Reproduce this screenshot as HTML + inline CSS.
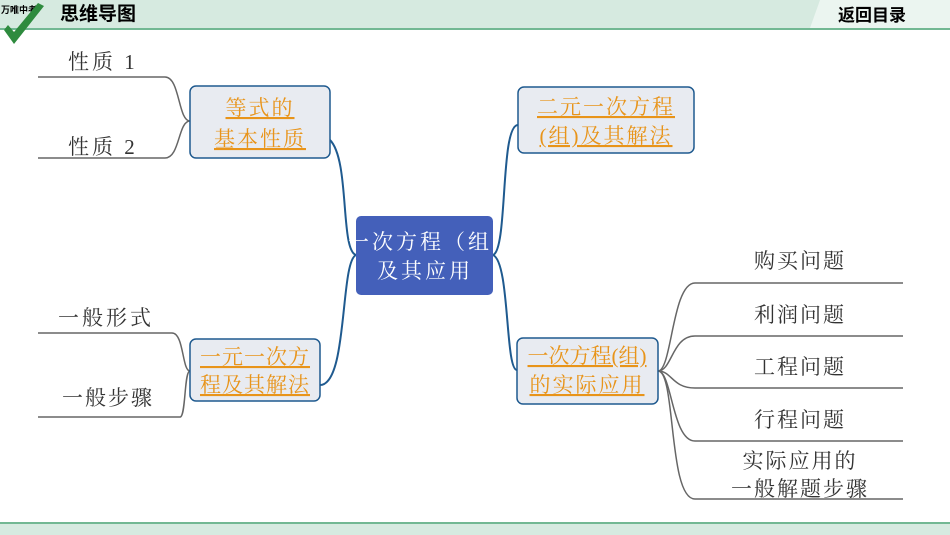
<!DOCTYPE html>
<html><head><meta charset="utf-8"><style>
html,body{margin:0;padding:0;width:950px;height:535px;overflow:hidden;background:#fff}
svg{display:block}
text{font-family:"Liberation Serif","Noto Serif CJK SC",serif}
</style></head><body>
<svg width="950" height="535" viewBox="0 0 950 535" xmlns="http://www.w3.org/2000/svg">
<rect x="0" y="0" width="950" height="28" fill="#d6eae0"/>
<rect x="0" y="28" width="950" height="2" fill="#72b893"/>
<polygon points="820,0 950,0 950,28 810,28" fill="#fff" opacity="0.5"/>
<text x="60" y="20" font-size="19" font-weight="bold" fill="#000" style="font-family:'Liberation Sans','Noto Sans CJK SC',sans-serif">思维导图</text>
<text x="838" y="21" font-size="17" font-weight="bold" fill="#000" style="font-family:'Liberation Sans','Noto Sans CJK SC',sans-serif">返回目录</text>
<text x="1" y="13" font-size="9" font-weight="bold" fill="#000" style="font-family:'Liberation Sans','Noto Sans CJK SC',sans-serif">万唯中考</text>
<path d="M4,30 L14,44 L44,6 L38,3 L14,32 L8,25 Z" fill="#2e8b3e"/>
<rect x="0" y="522" width="950" height="2" fill="#72b893"/>
<rect x="0" y="524" width="950" height="11" fill="#d6eae0"/>

<g fill="none" stroke="#666" stroke-width="1.5">
<path d="M38,77 H165 C180,77 178,121 190,121"/>
<path d="M38,158 H165 C180,158 178,121 190,121"/>
<path d="M38,333 H172 C184,333 182,371 190,371"/>
<path d="M38,417 H180 C186,417 184,371 190,371"/>
<path d="M658,371 C672,371 672,283 695,283 H903"/>
<path d="M658,371 C672,371 672,336 695,336 H903"/>
<path d="M658,371 C672,371 672,388 695,388 H903"/>
<path d="M658,371 C672,371 672,441 695,441 H903"/>
<path d="M658,371 C676,371 668,499 695,499 H903"/>
</g>
<g fill="none" stroke="#1f5a8f" stroke-width="2">
<path d="M330,140 C350,160 340,250 356,255"/>
<path d="M356,255 C340,262 348,385 320,385"/>
<path d="M493,255 C508,250 500,125 518,125"/>
<path d="M493,255 C510,262 505,370 517,370"/>
</g>

<rect x="190" y="86" width="140" height="72" rx="6" fill="#e8ebf1" stroke="#1f5a8f" stroke-width="1.5"/>
<rect x="518" y="87" width="176" height="66" rx="6" fill="#e8ebf1" stroke="#1f5a8f" stroke-width="1.5"/>
<rect x="190" y="339" width="130" height="62" rx="6" fill="#e8ebf1" stroke="#1f5a8f" stroke-width="1.5"/>
<rect x="517" y="338" width="141" height="66" rx="6" fill="#e8ebf1" stroke="#1f5a8f" stroke-width="1.5"/>
<rect x="356" y="216" width="137" height="79" rx="5" fill="#4460ba"/>

<g font-size="21" fill="#e8941a" text-anchor="middle" text-decoration="underline">
<text x="260" y="115" letter-spacing="2">等式的</text>
<text x="260" y="146" letter-spacing="2">基本性质</text>
<text x="606" y="114" letter-spacing="2">二元一次方程</text>
<text x="606" y="143" letter-spacing="2">(组)及其解法</text>
<text x="255" y="364" letter-spacing="1">一元一次方</text>
<text x="255" y="392" letter-spacing="1">程及其解法</text>
<text x="587" y="363" letter-spacing="0">一次方程(组)</text>
<text x="587" y="392" letter-spacing="2">的实际应用</text>
</g>
<g font-size="21" fill="#fff" text-anchor="middle">
<text x="420" y="249" letter-spacing="3">一次方程（组</text>
<text x="425" y="278" letter-spacing="3">及其应用</text>
</g>
<g font-size="21" fill="#333">
<text x="68" y="69" letter-spacing="3">性质 1</text>
<text x="68" y="154" letter-spacing="3">性质 2</text>
<text x="58" y="325" letter-spacing="3">一般形式</text>
<text x="62" y="405" letter-spacing="2">一般步骤</text>
<g text-anchor="middle" letter-spacing="2">
<text x="800" y="268">购买问题</text>
<text x="800" y="322">利润问题</text>
<text x="800" y="374">工程问题</text>
<text x="800" y="427">行程问题</text>
<text x="800" y="468">实际应用的</text>
<text x="800" y="496">一般解题步骤</text>
</g>
</g>
</svg>
</body></html>
